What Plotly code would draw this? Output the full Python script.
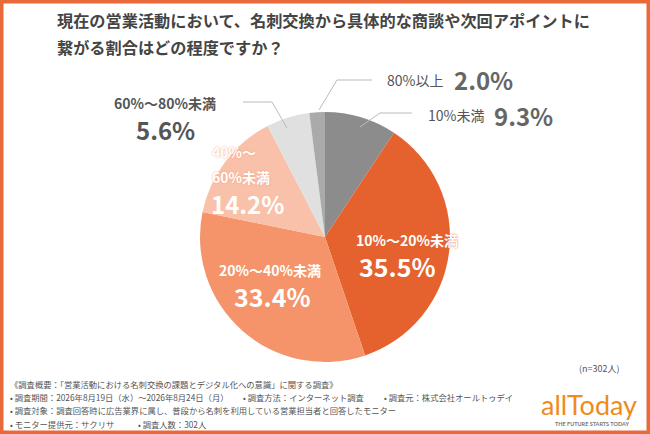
import plotly.graph_objects as go

# survey data (clockwise from 12 o'clock)
labels = ["10%未満", "10%～20%未満", "20%～40%未満", "40%～60%未満", "60%～80%未満", "80%以上"]
shares = [9.3, 35.5, 33.4, 14.2, 5.6, 2.0]
colors = ["#8c8c8c", "#e5622f", "#f5946a", "#f9c1a9", "#e0e0e0", "#aaaaaa"]

title_lines = ["現在の営業活動において、名刺交換から具体的な商談や次回アポイントに",
               "繋がる割合はどの程度ですか？"]
sample_note = "(n=302人)"
footer = [
    ("《調査概要：「営業活動における名刺交換の課題とデジタル化への意識」に関する調査》", 8, 384),
    ("• 調査期間：2026年8月19日（水）～2026年8月24日（月）", 8, 397),
    ("• 調査方法：インターネット調査", 241, 397),
    ("• 調査元：株式会社オールトゥデイ", 382, 397),
    ("• 調査対象：調査回答時に広告業界に属し、普段から名刺を利用している営業担当者と回答したモニター", 8, 410),
    ("• モニター提供元：サクリサ", 8, 424),
    ("• 調査人数：302人", 136, 424),
]

W, H = 650, 434
FONT = "Noto Sans CJK JP"


def px(x):
    return x / W


def py(y):
    return 1 - y / H


fig = go.Figure(go.Pie(
    labels=labels, values=shares, sort=False, direction="clockwise", rotation=0,
    marker=dict(colors=colors, line=dict(width=0)),
    textinfo="none", hoverinfo="label+percent", showlegend=False,
    domain=dict(x=[px(200), px(450)], y=[py(362), py(112)]),
))

ann = []
# title
for i, line in enumerate(title_lines):
    ann.append(dict(x=px(55), y=py(20 + 27 * i), text="<b>" + line + "</b>", xanchor="left",
                    yanchor="middle", font=dict(size=16.2, color="#444444")))

# outside labels: 80%以上 and 10%未満
ann.append(dict(x=px(445), y=py(80), text="80%以上", xanchor="right", yanchor="middle",
                font=dict(size=14, color="#555555")))
ann.append(dict(x=px(452), y=py(80), text="<b>%.1f%%</b>" % shares[5], xanchor="left", yanchor="middle",
                font=dict(size=24, color="#666666")))
ann.append(dict(x=px(486), y=py(115), text=labels[0], xanchor="right", yanchor="middle",
                font=dict(size=14, color="#555555")))
ann.append(dict(x=px(492), y=py(116), text="<b>%.1f%%</b>" % shares[0], xanchor="left", yanchor="middle",
                font=dict(size=24, color="#666666")))
# 60%～80%未満
ann.append(dict(x=px(165), y=py(103), text="<b>" + labels[4] + "</b>", xanchor="center", yanchor="middle",
                font=dict(size=14, color="#555555")))
ann.append(dict(x=px(165), y=py(130), text="<b>%.1f%%</b>" % shares[4], xanchor="center", yanchor="middle",
                font=dict(size=24, color="#555555")))
# inside labels
glow = "0px 0px 2px #f29a78"
ann.append(dict(x=px(210), y=py(152), text="<b>40%～</b>", xanchor="left", yanchor="middle",
                font=dict(size=14, color="white", shadow=glow)))
ann.append(dict(x=px(210), y=py(177), text="<b>60%未満</b>", xanchor="left", yanchor="middle",
                font=dict(size=14, color="white", shadow=glow)))
ann.append(dict(x=px(247), y=py(203), text="<b>%.1f%%</b>" % shares[3], xanchor="center", yanchor="middle",
                font=dict(size=24, color="white")))
ann.append(dict(x=px(407), y=py(240), text="<b>" + labels[1] + "</b>", xanchor="center", yanchor="middle",
                font=dict(size=14, color="white", shadow="0px 0px 2px #e5622f")))
ann.append(dict(x=px(397), y=py(266), text="<b>%.1f%%</b>" % shares[1], xanchor="center", yanchor="middle",
                font=dict(size=25, color="white")))
ann.append(dict(x=px(270), y=py(270), text="<b>" + labels[2] + "</b>", xanchor="center", yanchor="middle",
                font=dict(size=14, color="white")))
ann.append(dict(x=px(272), y=py(296), text="<b>%.1f%%</b>" % shares[2], xanchor="center", yanchor="middle",
                font=dict(size=25, color="white")))

# sample size and footer
ann.append(dict(x=px(622), y=py(368), text=sample_note, xanchor="right", yanchor="middle",
                font=dict(size=9, color="#555555")))
for text, x, y in footer:
    ann.append(dict(x=px(x), y=py(y), text=text, xanchor="left", yanchor="middle",
                    font=dict(size=8.3, color="#555555")))

# logo
ann.append(dict(x=px(589), y=py(404), text="allToday", xanchor="center", yanchor="middle",
                font=dict(size=27, color="#f08a1c", family="Lato")))
ann.append(dict(x=px(592), y=py(424), text="<b>THE FUTURE STARTS TODAY</b>", xanchor="center", yanchor="middle",
                font=dict(size=5.5, color="#777777", family="Lato")))

for a in ann:
    a.update(xref="paper", yref="paper", showarrow=False)

shapes = []
# leader lines
for pts in [[(287, 128), (272, 102), (243, 102)],
            [(319, 110), (337, 80), (372, 80)],
            [(360, 127), (380, 113), (412, 113)]]:
    path = "M " + " L ".join("%f,%f" % (px(x), py(y)) for x, y in pts)
    shapes.append(dict(type="path", path=path, xref="paper", yref="paper",
                       line=dict(color="#bbbbbb", width=1)))
# orange frame
shapes.append(dict(type="rect", x0=0, y0=0, x1=1, y1=1, xref="paper", yref="paper",
                   line=dict(color="#e8693a", width=7)))

fig.update_layout(
    width=W, height=H, margin=dict(l=0, r=0, t=0, b=0),
    paper_bgcolor="white", plot_bgcolor="white",
    font=dict(family=FONT),
    annotations=ann, shapes=shapes,
)
fig.write_html("out.html", config={"displayModeBar": False},
               post_script="document.body.style.margin='0';")
